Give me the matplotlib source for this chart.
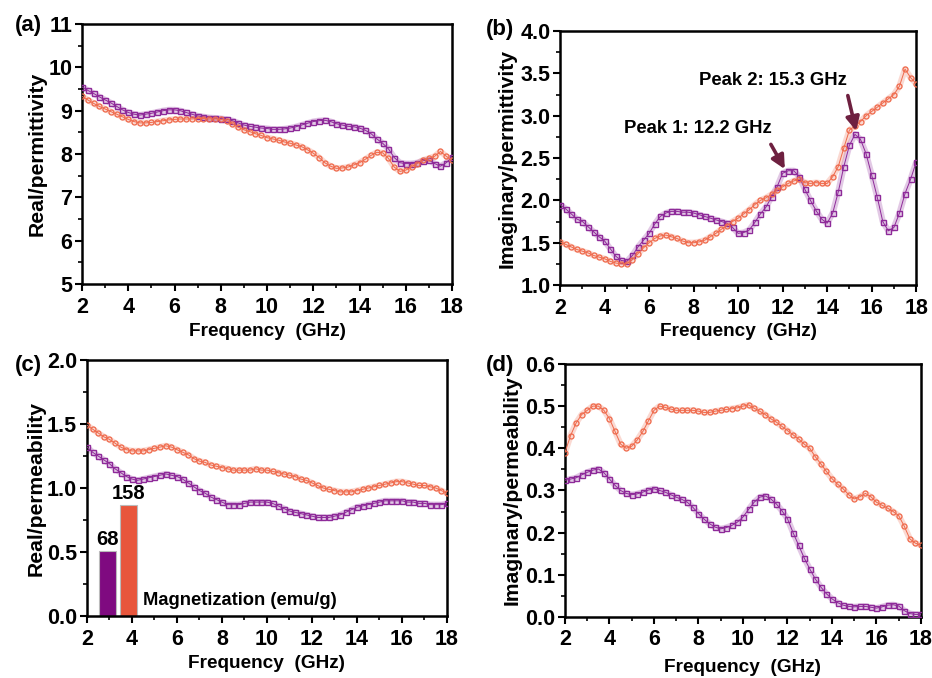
import numpy as np
import matplotlib
matplotlib.use("Agg")
import matplotlib.pyplot as plt
from matplotlib.ticker import MultipleLocator, FormatStrFormatter

plt.rcParams['font.family'] = ['Liberation Sans', 'DejaVu Sans']
plt.rcParams['font.weight'] = 'bold'

freq = [2 + 0.25 * i for i in range(65)]

# (a) real permittivity
a_purple = [9.55, 9.47, 9.40, 9.32, 9.25, 9.18, 9.10, 9.02, 8.96, 8.92, 8.90, 8.92, 8.94, 8.97, 9.00, 9.02,
            9.02, 9.00, 8.96, 8.92, 8.88, 8.86, 8.84, 8.83, 8.82, 8.80, 8.77, 8.72, 8.67, 8.64, 8.62, 8.60,
            8.59, 8.57, 8.57, 8.58, 8.60, 8.63, 8.67, 8.71, 8.75, 8.77, 8.78, 8.75, 8.70, 8.67, 8.64, 8.63,
            8.60, 8.55, 8.47, 8.35, 8.25, 8.12, 7.92, 7.80, 7.78, 7.78, 7.80, 7.85, 7.86, 7.78, 7.72, 7.80, 7.93]
a_orange = [9.33, 9.25, 9.17, 9.10, 9.04, 8.98, 8.92, 8.86, 8.80, 8.75, 8.72, 8.72, 8.73, 8.75, 8.77, 8.79,
            8.80, 8.81, 8.81, 8.81, 8.82, 8.82, 8.81, 8.81, 8.80, 8.77, 8.70, 8.62, 8.56, 8.52, 8.47, 8.43,
            8.38, 8.35, 8.32, 8.28, 8.25, 8.21, 8.17, 8.10, 8.02, 7.92, 7.80, 7.72, 7.67, 7.68, 7.70, 7.75,
            7.80, 7.88, 7.97, 8.04, 8.03, 7.90, 7.70, 7.60, 7.63, 7.70, 7.78, 7.86, 7.90, 7.95, 8.06, 7.95, 7.86]

# (b) imaginary permittivity
b_purple = [1.95, 1.90, 1.84, 1.78, 1.75, 1.69, 1.63, 1.57, 1.52, 1.43, 1.34, 1.29, 1.28, 1.35, 1.45, 1.53,
            1.61, 1.72, 1.81, 1.85, 1.87, 1.87, 1.86, 1.86, 1.85, 1.83, 1.81, 1.79, 1.77, 1.75, 1.73, 1.68,
            1.61, 1.62, 1.65, 1.74, 1.84, 1.92, 2.04, 2.16, 2.32, 2.35, 2.35, 2.28, 2.13, 2.00, 1.88, 1.78,
            1.73, 1.85, 2.10, 2.40, 2.65, 2.78, 2.72, 2.55, 2.30, 2.04, 1.75, 1.64, 1.68, 1.85, 2.08, 2.25, 2.45]
b_orange = [1.51, 1.48, 1.45, 1.42, 1.40, 1.38, 1.35, 1.33, 1.31, 1.28, 1.26, 1.25, 1.25, 1.30, 1.37, 1.44,
            1.50, 1.55, 1.58, 1.59, 1.57, 1.55, 1.52, 1.50, 1.50, 1.51, 1.53, 1.57, 1.61, 1.66, 1.70, 1.75,
            1.79, 1.84, 1.89, 1.95, 2.00, 2.03, 2.07, 2.12, 2.16, 2.20, 2.23, 2.25, 2.21, 2.20, 2.21, 2.20,
            2.20, 2.28, 2.40, 2.62, 2.83, 2.88, 2.93, 3.00, 3.05, 3.10, 3.15, 3.20, 3.25, 3.35, 3.55, 3.45, 3.38]

# (c) real permeability
c_orange = [1.49, 1.46, 1.43, 1.40, 1.38, 1.35, 1.32, 1.30, 1.29, 1.29, 1.29, 1.30, 1.31, 1.32, 1.33, 1.32,
            1.30, 1.28, 1.26, 1.23, 1.21, 1.20, 1.18, 1.17, 1.16, 1.15, 1.14, 1.14, 1.14, 1.14, 1.15, 1.14,
            1.14, 1.13, 1.12, 1.11, 1.10, 1.09, 1.07, 1.06, 1.04, 1.02, 1.00, 0.99, 0.98, 0.97, 0.97, 0.97,
            0.98, 0.99, 1.00, 1.01, 1.02, 1.03, 1.04, 1.05, 1.05, 1.04, 1.03, 1.02, 1.02, 1.01, 1.00, 0.98, 0.96]
c_purple = [1.32, 1.28, 1.25, 1.22, 1.19, 1.15, 1.12, 1.09, 1.07, 1.06, 1.07, 1.08, 1.09, 1.10, 1.11, 1.10,
            1.09, 1.07, 1.04, 1.01, 0.98, 0.96, 0.93, 0.91, 0.89, 0.87, 0.87, 0.87, 0.88, 0.89, 0.89, 0.89,
            0.89, 0.88, 0.86, 0.84, 0.82, 0.81, 0.80, 0.79, 0.78, 0.77, 0.77, 0.77, 0.78, 0.79, 0.81, 0.83,
            0.85, 0.86, 0.87, 0.88, 0.89, 0.90, 0.90, 0.90, 0.90, 0.89, 0.89, 0.88, 0.88, 0.87, 0.87, 0.87, 0.88]

# (d) imaginary permeability
d_orange = [0.390, 0.430, 0.460, 0.480, 0.490, 0.500, 0.500, 0.490, 0.470, 0.440, 0.410, 0.400, 0.405, 0.420,
            0.440, 0.465, 0.490, 0.500, 0.497, 0.493, 0.490, 0.490, 0.490, 0.490, 0.488, 0.485, 0.485, 0.488,
            0.490, 0.492, 0.494, 0.496, 0.500, 0.503, 0.495, 0.488, 0.480, 0.470, 0.462, 0.452, 0.442, 0.432,
            0.422, 0.410, 0.400, 0.380, 0.363, 0.345, 0.328, 0.315, 0.304, 0.290, 0.280, 0.285, 0.293, 0.285,
            0.272, 0.265, 0.258, 0.250, 0.240, 0.215, 0.185, 0.175, 0.170]
d_purple = [0.324, 0.327, 0.330, 0.337, 0.343, 0.348, 0.351, 0.342, 0.327, 0.312, 0.300, 0.293, 0.290, 0.292,
            0.296, 0.301, 0.304, 0.300, 0.296, 0.290, 0.284, 0.279, 0.272, 0.260, 0.245, 0.232, 0.221, 0.213,
            0.209, 0.212, 0.217, 0.225, 0.237, 0.255, 0.272, 0.284, 0.287, 0.280, 0.268, 0.252, 0.233, 0.200,
            0.170, 0.140, 0.114, 0.090, 0.071, 0.055, 0.043, 0.034, 0.028, 0.025, 0.024, 0.025, 0.025, 0.023,
            0.021, 0.024, 0.028, 0.029, 0.026, 0.015, 0.008, 0.006, 0.006]

# inset bars (c)
mag_labels = ['68', '158']
bar_x = [2.9, 3.86]
bar_heights = [0.51, 0.87]

PURPLE = '#8E2A99'
ORANGE = '#EF6A4C'
BAR_P = '#7F0A80'
BAR_O = '#E8563C'
ARROW = '#6E2040'

fig = plt.figure(figsize=(9.32, 6.78), dpi=100)

positions = {
    'a': [0.088, 0.581, 0.397, 0.3835],
    'b': [0.601, 0.5796, 0.382, 0.3746],
    'c': [0.0933, 0.0914, 0.3863, 0.3776],
    'd': [0.6062, 0.090, 0.382, 0.3732],
}
ylims = {'a': (5, 11), 'b': (1.0, 4.0), 'c': (0.0, 2.0), 'd': (0.0, 0.6)}
ymaj = {'a': 1, 'b': 0.5, 'c': 0.5, 'd': 0.1}
ymin = {'a': 0.5, 'b': 0.25, 'c': 0.25, 'd': 0.05}
yfmt = {'a': '%d', 'b': '%.1f', 'c': '%.1f', 'd': '%.1f'}
ylabels = {'a': 'Real/permittivity', 'b': 'Imaginary/permittivity',
           'c': 'Real/permeability', 'd': 'Imaginary/permeability'}
ylabel_x = {'a': -0.097, 'b': -0.121, 'c': -0.114, 'd': -0.121}
xlabel_y = {'a': -0.15, 'b': -0.15, 'c': -0.152, 'd': -0.168}
series = {'a': (a_purple, a_orange), 'b': (b_purple, b_orange),
          'c': (c_purple, c_orange), 'd': (d_purple, d_orange)}
panel_pos = {'a': (15, 25), 'b': (486, 30), 'c': (15, 366), 'd': (486, 366)}

axes = {}
for key, pos in positions.items():
    ax = fig.add_axes(pos)
    axes[key] = ax
    p, o = series[key]
    # soft band under the dense open markers
    ax.plot(freq, p, '-', color=PURPLE, lw=4.5, alpha=0.25, zorder=2, solid_capstyle='butt')
    ax.plot(freq, o, '-', color=ORANGE, lw=4.5, alpha=0.25, zorder=2, solid_capstyle='butt')
    ax.plot(freq, p, '-', color=PURPLE, lw=0.7, marker='s', ms=3.6, mfc='none', mec=PURPLE, mew=1.0, zorder=3)
    ax.plot(freq, o, '-', color=ORANGE, lw=0.7, marker='o', ms=3.6, mfc='none', mec=ORANGE, mew=0.9, zorder=3)
    ax.set_xlim(2, 18)
    ax.set_ylim(*ylims[key])
    ax.xaxis.set_major_locator(MultipleLocator(2))
    ax.xaxis.set_minor_locator(MultipleLocator(1))
    ax.yaxis.set_major_locator(MultipleLocator(ymaj[key]))
    ax.yaxis.set_minor_locator(MultipleLocator(ymin[key]))
    ax.yaxis.set_major_formatter(FormatStrFormatter(yfmt[key]))
    ax.tick_params(which='major', direction='out', length=5, width=1.5, labelsize=15.5, pad=2)
    ax.tick_params(axis='x', which='major', pad=4)
    ax.tick_params(which='minor', direction='out', length=3, width=1.2)
    for s in ax.spines.values():
        s.set_linewidth(1.8)
    for lab in ax.get_xticklabels() + ax.get_yticklabels():
        lab.set_fontweight('bold')
    ax.set_xlabel('Frequency  (GHz)', fontsize=13.7, fontweight='bold')
    ax.xaxis.set_label_coords(0.5, xlabel_y[key])
    ax.set_ylabel(ylabels[key], fontsize=15.2, fontweight='bold')
    ax.yaxis.set_label_coords(ylabel_x[key], 0.5)
    px, py = panel_pos[key]
    fig.text(px / 932, 1 - py / 678, '(%s)' % key, fontsize=16, fontweight='bold', ha='left', va='center')

# (b) annotations
axb = axes['b']
axb.text(8.2, 2.85, 'Peak 1: 12.2 GHz', ha='center', va='center', fontsize=13.3, fontweight='bold')
axb.annotate('', xy=(12.16, 2.34), xytext=(11.41, 2.69),
             arrowprops=dict(arrowstyle='-|>,head_width=0.4,head_length=0.8', color=ARROW, lw=2.6))
axb.text(11.55, 3.42, 'Peak 2: 15.3 GHz', ha='center', va='center', fontsize=13.3, fontweight='bold')
axb.annotate('', xy=(15.33, 2.79), xytext=(14.9, 3.27),
             arrowprops=dict(arrowstyle='-|>,head_width=0.4,head_length=0.8', color=ARROW, lw=2.6))

# (c) magnetization bars
axc = axes['c']
bars = axc.bar(bar_x, bar_heights, width=0.74, color=[BAR_P, BAR_O], edgecolor='#BBBBBB', linewidth=0.8, zorder=2)
for b, lab in zip(bars, mag_labels):
    axc.text(b.get_x() + b.get_width() / 2, b.get_height() + 0.01, lab, ha='center', va='bottom',
             fontsize=14.5, fontweight='bold')
axc.text(4.5, 0.12, 'Magnetization (emu/g)', ha='left', va='center', fontsize=13.2, fontweight='bold')

fig.savefig('out.png', dpi=100)
